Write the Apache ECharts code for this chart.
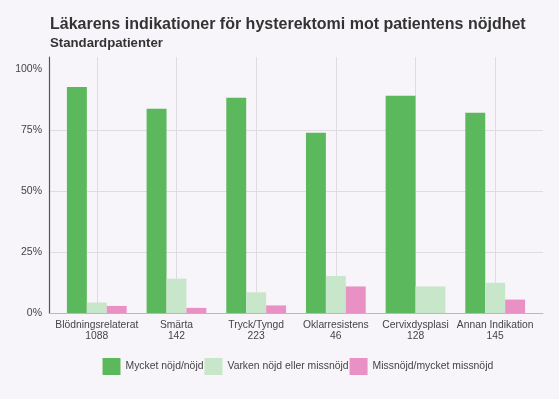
<!DOCTYPE html>
<html>
<head>
<meta charset="utf-8">
<script src="https://cdn.jsdelivr.net/npm/echarts@6/dist/echarts.min.js"></script>
<style>
  html, body { margin: 0; padding: 0; background: #f7f5f9; }
  #chart { width: 559px; height: 399px; }
</style>
</head>
<body>
<div id="chart"></div>
<script>
const categories = ['Blödningsrelaterat', 'Smärta', 'Tryck/Tyngd', 'Oklarresistens', 'Cervixdysplasi', 'Annan Indikation']
const counts = [1088, 142, 223, 46, 128, 145]
const seriesNames = ['Mycket nöjd/nöjd', 'Varken nöjd eller missnöjd', 'Missnöjd/mycket missnöjd']
const nojd = [92.7, 83.8, 88.3, 73.9, 89.1, 82.1]
const varken = [4.3, 14.1, 8.5, 15.2, 10.9, 12.4]
const missnojd = [2.9, 2.1, 3.1, 10.9, null, 5.5]
const yTicks = [0, 25, 50, 75, 100]
const colors = ['#5cb85c', '#c8e6c9', '#e991c4']

const allSeries = [nojd, varken, missnojd]
const catPositions = categories.map((_, i) => i + 1)

// bars per category shrink/grow like a dodge: only present groups share the slot
function slotData(values, seriesIndex) {
  return values.map((v, i) => {
    if (v == null) return null
    const present = allSeries.filter(s => s[i] != null)
    const slot = allSeries.slice(0, seriesIndex).filter(s => s[i] != null).length
    return [i + 1, v, slot, present.length]
  }).filter(d => d !== null)
}

function renderBar(params, api) {
  const cat = api.value(0)
  const val = api.value(1)
  const slot = api.value(2)
  const n = api.value(3)
  const w = 0.75 / n
  const x0 = cat - 0.375 + slot * w
  const p0 = api.coord([x0, val])
  const p1 = api.coord([x0 + w, 0])
  return {
    type: 'rect',
    shape: { x: p0[0], y: p0[1], width: p1[0] - p0[0], height: p1[1] - p0[1] },
    style: { fill: api.visual('color') },
  }
}

const chart = echarts.init(document.getElementById('chart'))
chart.setOption({
  backgroundColor: '#f7f5f9',
  animation: false,
  textStyle: { fontFamily: 'Liberation Sans, Arial, sans-serif' },
  title: {
    text: 'Läkarens indikationer för hysterektomi mot patientens nöjdhet',
    subtext: 'Standardpatienter',
    left: 50,
    top: 17,
    padding: 0,
    itemGap: 4,
    textStyle: { fontSize: 16, fontWeight: 'bold', color: '#333333', fontFamily: 'Liberation Sans' },
    subtextStyle: { fontSize: 13.2, fontWeight: 'bold', color: '#333333', fontFamily: 'Liberation Sans' },
  },
  legend: {
    data: seriesNames,
    left: 102.5,
    top: 358,
    padding: 0,
    itemWidth: 18,
    itemHeight: 17,
    itemGap: 1,
    icon: 'rect',
    textStyle: { fontSize: 10.4, color: '#444444', fontFamily: 'Liberation Sans' },
  },
  grid: { left: 49, right: 16, top: 57, bottom: 86, containLabel: false },
  xAxis: {
    type: 'value',
    min: 0.4,
    max: 6.6,
    axisLine: { show: true, lineStyle: { color: '#b9b8be', width: 1 } },
    axisTick: { show: false, customValues: catPositions },
    splitLine: { show: true, lineStyle: { color: '#dddce1', width: 1 } },
    axisLabel: {
      customValues: catPositions,
      margin: 6,
      fontSize: 10.3,
      lineHeight: 11.5,
      color: '#444444',
      fontFamily: 'Liberation Sans',
      formatter: v => categories[Math.round(v) - 1] + '\n' + counts[Math.round(v) - 1],
    },
  },
  yAxis: {
    type: 'value',
    min: 0,
    max: 105,
    interval: 25,
    axisLine: { show: true, lineStyle: { color: '#555555', width: 1.2 } },
    axisTick: { show: false, customValues: yTicks },
    splitLine: { show: true, showMaxLine: false, lineStyle: { color: '#dddce1', width: 1 } },
    axisLabel: {
      customValues: yTicks,
      margin: 7,
      fontSize: 10.5,
      color: '#444444',
      fontFamily: 'Liberation Sans',
      formatter: v => v + '%',
    },
  },
  series: allSeries.map((values, k) => ({
    name: seriesNames[k],
    type: 'custom',
    renderItem: renderBar,
    itemStyle: { color: colors[k] },
    encode: { x: 0, y: 1 },
    data: slotData(values, k),
  })),
})
</script>
</body>
</html>
